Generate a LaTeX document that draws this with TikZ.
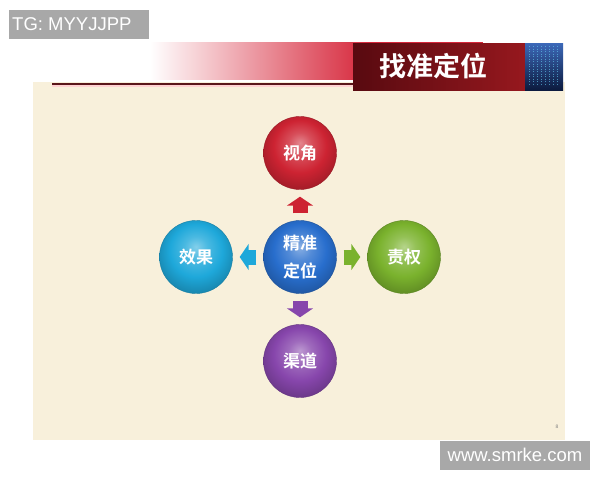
\documentclass[tikz,border=0pt]{standalone}
\usepackage{fontspec}
\setmainfont{Liberation Sans}
\newfontfamily\cjk{Noto Sans CJK SC}[BoldFont=* Bold]
\usetikzlibrary{arrows.meta,shadings}
\makeatletter
\pgfdeclareradialshading[tikz@ball]{glossball}{\pgfqpoint{0bp}{7bp}}{%
  color(0bp)=(tikz@ball!55!white);
  color(8bp)=(tikz@ball!80!white);
  color(18bp)=(tikz@ball);
  color(28bp)=(tikz@ball!80!black);
  color(50bp)=(tikz@ball!60!black)}
\makeatother
\definecolor{cream}{RGB}{248,240,219}
\definecolor{bandred}{RGB}{214,38,58}
\definecolor{titledark}{RGB}{88,10,16}
\definecolor{titlered}{RGB}{150,24,30}
\definecolor{bluetop}{RGB}{60,105,185}
\definecolor{bluebot}{RGB}{12,26,62}
\definecolor{linedark}{RGB}{90,22,26}
\definecolor{ballred}{RGB}{205,35,50}
\definecolor{ballblue}{RGB}{40,110,205}
\definecolor{ballcyan}{RGB}{30,168,218}
\definecolor{ballgreen}{RGB}{122,178,45}
\definecolor{ballpurple}{RGB}{135,70,172}
\definecolor{wmgray}{RGB}{168,168,168}
\tikzset{
  ballnode/.style={circle, minimum size=73pt, inner sep=0pt, text=white,
    ball color=#1, shading=glossball, draw=#1!75!black, line width=0.4pt,
    font=\cjk\bfseries\fontsize{17}{28}\selectfont, align=center},
  blockarr/.style={line width=15pt, -{Triangle[width=26pt,length=9pt]},
    shorten <=7pt, shorten >=7pt},
  wmbox/.style={fill=wmgray, text=white, inner sep=0pt, font=\fontsize{18.5}{18.5}\selectfont}
}
\begin{document}
\begin{tikzpicture}[x=1pt,y=-1pt]
\useasboundingbox (0,0) rectangle (600,480);
\fill[white] (0,0) rectangle (600,480);
% slide background
\fill[cream] (33,82) rectangle (565,440);
% header band
\shade[left color=white, right color=bandred] (150,42) rectangle (370,79);
\fill[bandred] (369.5,42) rectangle (483,79);
\draw[pink!70, line width=2pt] (52,86) -- (353,86);
\draw[linedark, line width=1.4pt] (52,84) -- (353,84);
% title box
\shade[left color=titledark, right color=titlered] (353,43) rectangle (525,90);
\shade[top color=bluetop, bottom color=bluebot] (525,43) rectangle (563,90);
\foreach \xx in {529,533,537,541,545,549,553,557}
  \draw[cyan!60!white, line width=0.4pt, dash pattern=on 1pt off 1.5pt, opacity=0.6] (\xx,46) -- (\xx,86);
\node[text=white, font=\cjk\bfseries\fontsize{27}{27}\selectfont] (title) at (433,66) {找准定位};
% circles
\node[ballnode=ballblue] (c) at (300,257) {精准\\定位};
\node[ballnode=ballred] (t) at (300,153) {视角};
\node[ballnode=ballcyan] (l) at (196,257) {效果};
\node[ballnode=ballgreen] (r) at (404,257) {责权};
\node[ballnode=ballpurple] (b) at (300,361) {渠道};
% block arrows
\draw[blockarr, ballred] (c) -- (t);
\draw[blockarr, ballcyan] (c) -- (l);
\draw[blockarr, ballgreen] (c) -- (r);
\draw[blockarr, ballpurple] (c) -- (b);
% page number
\node[text=gray, font=\fontsize{5}{5}\selectfont] (pg) at (557,427) {8};
% watermarks
\fill[wmgray] (9,10) rectangle (149,39);
\node[text=white, font=\fontsize{18.5}{18.5}\selectfont, anchor=west, inner sep=0pt] (wm1) at (12,24.5) {TG: MYYJJPP};
\node[wmbox, minimum width=150pt, minimum height=29pt] (wm2) at (515,455) {www.smrke.com};
\end{tikzpicture}
\end{document}
